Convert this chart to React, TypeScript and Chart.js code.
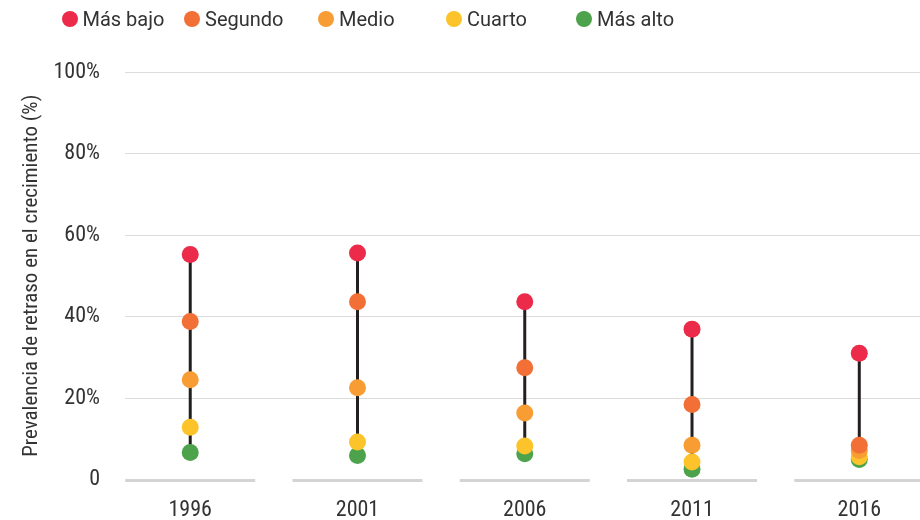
import React, { useEffect, useRef } from "react";
import { Chart, registerables } from "chart.js";

Chart.register(...registerables);

// ---- Data ----
const years = ["1996", "2001", "2006", "2011", "2016"];
const seriesNames = ["Más bajo", "Segundo", "Medio", "Cuarto", "Más alto"];
const masBajo = [55.2, 55.6, 43.6, 36.9, 31.0];
const segundo = [38.8, 43.6, 27.4, 18.4, 8.4];
const medio = [24.5, 22.5, 16.3, 8.4, 7.1];
const cuarto = [12.8, 9.2, 8.2, 4.3, 5.6];
const masAlto = [6.6, 5.9, 6.3, 2.5, 4.9];
const yTicks = [0, 20, 40, 60, 80, 100];
const yTitle = "Prevalencia de retraso en el crecimiento (%)";

// ---- Style ----
const seriesValues = [masBajo, segundo, medio, cuarto, masAlto];
const colors = ["#EC2A49", "#F26F36", "#F89C34", "#FCC42A", "#4CA34C"];
const legendCenters = [69.5, 192, 326, 454, 584];
const condensed = "'Roboto Condensed', 'Liberation Sans Narrow', Roboto, sans-serif";
const textColor = "#333333";

const baselinePlugin = {
  id: "baselineSegments",
  beforeDatasetsDraw(chart: any) {
    const xs = chart.scales.x;
    const ys = chart.scales.y;
    const ctx = chart.ctx;
    const y0 = ys.getPixelForValue(0) + 1;
    ctx.save();
    ctx.strokeStyle = "#d4d4d4";
    ctx.lineWidth = 3;
    years.forEach((_, i) => {
      const cx = xs.getPixelForValue(i);
      ctx.beginPath();
      ctx.moveTo(cx - 65, y0);
      ctx.lineTo(cx + 65, y0);
      ctx.stroke();
    });
    ctx.restore();
  },
};

export default function App() {
  const canvasRef = useRef<HTMLCanvasElement | null>(null);

  useEffect(() => {
    if (!canvasRef.current) return;

    const connector: any[] = [];
    years.forEach((_, i) => {
      const vals = seriesValues.map((s) => s[i]);
      connector.push({ x: i, y: Math.min(...vals) });
      connector.push({ x: i, y: Math.max(...vals) });
      connector.push({ x: i, y: null });
    });

    const pointSets = seriesNames.map((name, k) => ({
      type: "line" as const,
      label: name,
      data: years.map((_, i) => ({ x: i, y: seriesValues[k][i] })),
      showLine: false,
      pointRadius: 8.5,
      pointHoverRadius: 8.5,
      pointBorderWidth: 0,
      pointBackgroundColor: colors[k],
      borderColor: colors[k],
      order: 1,
      clip: false,
    }));

    const chart = new Chart(canvasRef.current, {
      type: "line",
      data: {
        datasets: [
          ...pointSets,
          {
            type: "line" as const,
            label: "rango",
            data: connector,
            borderColor: "#231F20",
            borderWidth: 3,
            pointRadius: 0,
            spanGaps: false,
            order: 10,
          },
        ],
      },
      options: {
        animation: false,
        responsive: false,
        events: [],
        layout: { autoPadding: false, padding: { top: 72, left: 0, right: 0, bottom: 0 } },
        plugins: { legend: { display: false }, tooltip: { enabled: false } },
        scales: {
          x: {
            type: "linear",
            min: -0.39,
            max: 4.363,
            afterBuildTicks: (scale: any) => {
              scale.ticks = years.map((_, i) => ({ value: i }));
            },
            afterFit: (scale: any) => {
              scale.height = 40.5;
              scale.paddingLeft = 0;
              scale.paddingRight = 0;
            },
            grid: { display: false, drawTicks: false },
            border: { display: false },
            ticks: {
              autoSkip: false,
              maxRotation: 0,
              padding: 18,
              color: textColor,
              font: { family: condensed, size: 22 },
              callback: (v: any) => years[v] ?? "",
            },
          },
          y: {
            min: 0,
            max: 100,
            afterBuildTicks: (scale: any) => {
              scale.ticks = yTicks.map((v) => ({ value: v }));
            },
            afterFit: (scale: any) => {
              scale.width = 125;
            },
            grid: {
              drawTicks: false,
              color: (c: any) => (c.tick && c.tick.value === 0 ? "rgba(0,0,0,0)" : "#dcdcdc"),
              lineWidth: 1,
            },
            border: { display: false },
            ticks: {
              padding: 25,
              color: textColor,
              font: { family: condensed, size: 22 },
              callback: (v: any) => (v === 0 ? "0" : v + "%"),
            },
            title: {
              display: true,
              text: yTitle,
              color: textColor,
              font: { family: condensed, size: 21 },
              padding: { top: 19, bottom: 0 },
            },
          },
        },
      },
      plugins: [baselinePlugin],
    } as any);

    return () => chart.destroy();
  }, []);

  return (
    <div style={{ position: "absolute", left: 0, top: 0, width: 920, height: 520, overflow: "hidden", background: "#fff" }}>
      <canvas ref={canvasRef} width={920} height={520} style={{ position: "absolute", left: 0, top: 0 }} />
      {seriesNames.map((name, k) => (
        <div
          key={name}
          style={{
            position: "absolute",
            left: legendCenters[k] - 8,
            top: 7,
            height: 24,
            display: "flex",
            alignItems: "center",
            fontFamily: "Roboto, 'Noto Sans', sans-serif",
            fontSize: 20,
            color: textColor,
            whiteSpace: "nowrap",
          }}
        >
          <span
            style={{
              display: "inline-block",
              width: 16,
              height: 16,
              borderRadius: "50%",
              background: colors[k],
              marginRight: 5,
            }}
          />
          <span>{name}</span>
        </div>
      ))}
    </div>
  );
}
